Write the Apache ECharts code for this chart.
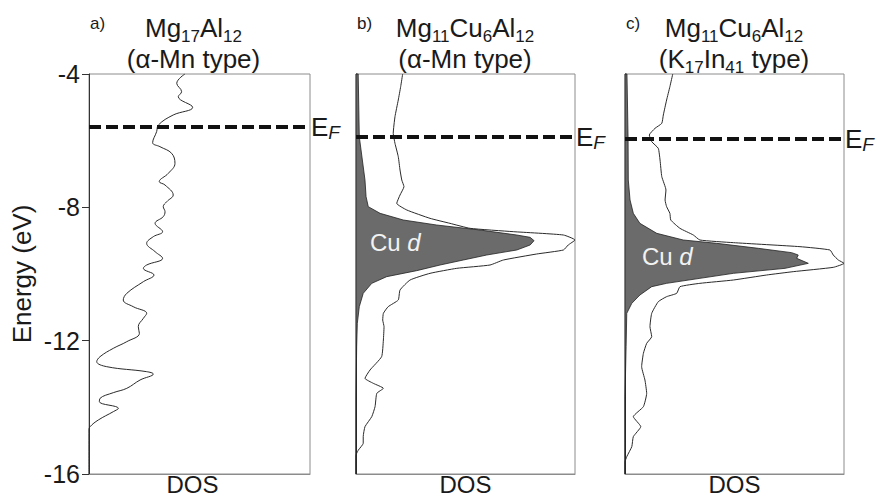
<!DOCTYPE html>
<html><head><meta charset="utf-8">
<script src="https://cdn.jsdelivr.net/npm/echarts@6/dist/echarts.min.js"></script>
<style>html,body{margin:0;padding:0;background:#fff}#c{width:876px;height:497px}</style>
</head><body><div id="c"></div>
<script>
// ---- data (energy in eV, DOS in arbitrary units 0..10) ----
const aE = [-4.0,-4.28,-4.53,-4.68,-5.0,-5.23,-5.53,-5.73,-6.06,-6.18,-6.38,-6.68,-6.98,-7.23,-7.33,-7.63,-7.83,-7.98,-8.13,-8.28,-8.48,-8.73,-8.88,-9.08,-9.33,-9.53,-9.73,-9.83,-10.03,-10.23,-10.58,-10.78,-10.98,-11.18,-11.33,-11.58,-11.78,-12.03,-12.23,-12.48,-12.63,-12.78,-12.93,-13.0,-13.18,-13.43,-13.56,-13.73,-13.83,-14.03,-14.13,-14.38,-14.58,-14.68,-16];
const aD = [4.34,3.97,4.19,4.04,4.69,3.81,3.14,3.06,2.88,3.21,3.74,3.89,3.59,3.18,3.44,3.81,3.52,3.36,3.44,3.36,2.99,3.33,2.91,2.61,2.99,3.33,2.61,2.46,2.94,2.46,1.71,1.55,2.00,2.61,2.46,2.23,2.28,1.71,1.10,0.50,0.35,0.80,2.61,2.91,2.31,1.71,1.10,0.50,0.47,1.33,1.10,0.42,0.05,0,0];

const bE = [-4.0,-4.38,-4.78,-5.28,-5.78,-6.08,-6.48,-6.88,-7.18,-7.38,-7.63,-7.88,-8.08,-8.33,-8.48,-8.63,-8.73,-8.83,-8.98,-9.13,-9.28,-9.40,-9.58,-9.73,-9.83,-9.98,-10.18,-10.48,-10.78,-10.98,-11.18,-11.38,-11.58,-11.98,-12.48,-12.88,-13.13,-13.28,-13.43,-13.58,-13.98,-14.28,-14.58,-14.88,-15.08,-15.28,-15.38,-15.46,-16];
const bD = [2.13,2.04,1.93,1.78,1.70,1.78,1.93,2.01,2.09,2.19,2.01,1.86,2.32,3.38,4.29,5.21,7.18,9.47,10.0,9.69,9.47,8.25,6.73,6.12,4.60,3.38,2.47,2.01,1.93,1.47,1.25,1.22,1.28,1.25,1.17,0.64,0.41,0.79,1.25,0.95,0.87,0.72,0.41,0.33,0.33,0.11,0.03,0,0];
const bCuE = [-4.0,-5.88,-7.18,-7.68,-7.98,-8.18,-8.38,-8.53,-8.68,-8.83,-8.90,-9.00,-9.13,-9.28,-9.43,-9.58,-9.73,-9.90,-10.08,-10.28,-10.58,-10.98,-11.48,-12.18,-13.68,-16];
const bCuD = [0.10,0.15,0.41,0.46,0.56,1.10,2.16,3.68,5.66,7.34,7.95,8.13,7.95,7.34,5.97,4.90,3.84,2.77,1.40,0.72,0.33,0.15,0.06,0.03,0,0];

const cE = [-4.0,-4.38,-4.78,-5.23,-5.48,-5.63,-5.83,-6.03,-6.23,-6.58,-7.08,-7.48,-7.78,-7.98,-8.18,-8.38,-8.63,-8.83,-8.98,-9.06,-9.18,-9.28,-9.43,-9.58,-9.68,-9.80,-9.93,-10.03,-10.18,-10.28,-10.38,-10.58,-10.68,-10.83,-11.18,-11.58,-11.88,-12.08,-12.38,-12.78,-13.18,-13.58,-13.98,-14.28,-14.58,-14.88,-15.18,-15.48,-15.64,-16];
const cD = [2.18,2.05,1.90,1.75,1.68,1.37,1.11,1.22,1.52,1.60,1.68,1.87,1.83,1.90,2.05,2.09,2.51,3.12,3.42,4.95,7.99,9.36,9.51,9.74,10.0,9.51,7.68,6.47,4.95,3.42,2.51,2.36,1.90,1.52,1.22,1.14,1.22,0.99,0.84,0.76,0.91,0.99,0.84,0.38,0.72,0.38,0.31,0.08,0,0];
const cCuE = [-4.0,-5.92,-7.18,-7.78,-8.18,-8.48,-8.78,-8.98,-9.08,-9.23,-9.36,-9.43,-9.53,-9.68,-9.83,-9.98,-10.13,-10.28,-10.38,-10.63,-10.88,-11.18,-12.18,-13.68,-16];
const cCuD = [0.09,0.14,0.15,0.23,0.38,0.68,1.45,2.66,4.19,6.09,7.61,7.91,7.84,8.37,7.31,4.95,3.42,1.90,1.22,0.68,0.31,0.08,0.05,0,0];

const fermiLevels = [-5.58, -5.88, -5.94];
const energyRange = [-16, -4];
const energyStep = 4;
const panelTags = ['a)', 'b)', 'c)'];
const panelFormulas = ['Mg{s|17}Al{s|12}', 'Mg{s|11}Cu{s|6}Al{s|12}', 'Mg{s|11}Cu{s|6}Al{s|12}'];
const panelTypes = ['(α-Mn type)', '(α-Mn type)', '(K{s|17}In{s|41} type)'];
const xName = 'DOS';
const yName = 'Energy (eV)';
const cuLabel = '{n|Cu }{i|d}';

// ---- layout / style ----
const FONT = 'Liberation Sans, Arial, sans-serif';
const TXT = '#1a1a1a';
const grids = [
  {left: 89, top: 74, width: 221, height: 400},
  {left: 356, top: 74, width: 219, height: 400},
  {left: 625, top: 74, width: 219, height: 400}
];
const titleCenters = [193.5, 465, 734];
const tagLefts = [90, 357, 626];

const pairs = (D, E) => D.map((d, i) => [d, E[i]]);
const totals = [pairs(aD, aE), pairs(bD, bE), pairs(cD, cE)];
const cuParts = [null, pairs(bCuD, bCuE), pairs(cCuD, cCuE)];

const sub = {fontSize: 17, fontFamily: FONT, color: TXT, padding: [16, 0, 0, 0]};

const option = {
  backgroundColor: '#fff',
  animation: false,
  textStyle: {fontFamily: FONT},
  grid: grids.map(g => Object.assign({show: true, borderColor: '#8c8c8c', borderWidth: 1,
    backgroundColor: 'transparent', containLabel: false, outerBoundsMode: 'none'}, g)),
  xAxis: grids.map((g, i) => ({
    type: 'value', gridIndex: i, min: 0, max: 10,
    axisLabel: {show: false}, axisTick: {show: false}, splitLine: {show: false},
    axisLine: {show: true, lineStyle: {color: '#8c8c8c', width: 1}},
    name: xName, nameLocation: 'middle', nameGap: -2,
    nameTextStyle: {fontSize: 24, color: TXT, fontFamily: FONT, verticalAlign: 'top',
      padding: i === 0 ? [0, 14, 0, 0] : 0}
  })),
  yAxis: grids.map((g, i) => ({
    type: 'value', gridIndex: i, min: energyRange[0], max: energyRange[1], interval: energyStep,
    axisLine: {show: true, lineStyle: {color: '#333', width: 1}},
    axisTick: {show: i === 0, length: 7, lineStyle: {color: '#333'}},
    axisLabel: {show: i === 0, fontSize: 25, margin: 9, color: TXT, fontFamily: FONT},
    splitLine: {show: false},
    name: i === 0 ? yName : '', nameLocation: 'middle', nameGap: 54,
    nameTextStyle: {fontSize: 26, color: TXT, fontFamily: FONT}
  })),
  series: [],
  graphic: []
};

totals.forEach((data, i) => {
  if (cuParts[i]) {
    const pts = cuParts[i];
    option.series.push({
      type: 'custom', xAxisIndex: i, yAxisIndex: i, data: pts, z: 2, silent: true,
      encode: {x: 0, y: 1},
      renderItem: function (params, api) {
        if (params.dataIndex !== 0) return null;
        const poly = [api.coord([0, energyRange[1]])].concat(pts.map(p => api.coord(p)));
        return {type: 'polygon', shape: {points: poly},
          style: {fill: '#6b6b6b', stroke: '#222', lineWidth: 0.8}};
      }
    });
  }
  option.series.push({
    type: 'line', xAxisIndex: i, yAxisIndex: i, data: data, showSymbol: false, z: 3,
    smooth: i === 0 ? 0.4 : 0.15, silent: true,
    lineStyle: {color: '#2a2a2a', width: 1},
    markLine: {
      silent: true, symbol: 'none', z: 5,
      lineStyle: {type: [12, 5], width: 4, color: '#111'},
      label: {show: true, position: 'end', distance: 1, formatter: '{e|E}{f|F}',
        rich: {e: {fontSize: 26, color: TXT, fontFamily: FONT},
               f: {fontSize: 19, fontStyle: 'italic', color: TXT, fontFamily: FONT, padding: [12, 0, 0, 0]}}},
      data: [{yAxis: fermiLevels[i]}]
    }
  });

  option.graphic.push({type: 'text', left: tagLefts[i], top: 15, z: 10,
    style: {text: panelTags[i], fontSize: 17, fill: TXT, fontFamily: FONT}});
  option.graphic.push({type: 'text', x: titleCenters[i], y: 28, z: 10,
    style: {text: panelFormulas[i], align: 'center', verticalAlign: 'middle',
      fontSize: 26, fill: TXT, fontFamily: FONT,
      rich: {s: sub}}});
  option.graphic.push({type: 'text', x: titleCenters[i], y: 59, z: 10,
    style: {text: panelTypes[i], align: 'center', verticalAlign: 'middle',
      fontSize: 26, fill: TXT, fontFamily: FONT,
      rich: {s: sub}}});
});

option.graphic.push({type: 'text', x: 370, y: 242, z: 10,
  style: {text: cuLabel, verticalAlign: 'middle', fill: '#f2f2f2', fontSize: 24, fontFamily: FONT,
    rich: {n: {fontSize: 24, color: '#f2f2f2', fontFamily: FONT}, i: {fontSize: 24, fontStyle: 'italic', color: '#f2f2f2', fontFamily: FONT}}}});
option.graphic.push({type: 'text', x: 642, y: 256, z: 10,
  style: {text: cuLabel, verticalAlign: 'middle', fill: '#f2f2f2', fontSize: 24, fontFamily: FONT,
    rich: {n: {fontSize: 24, color: '#f2f2f2', fontFamily: FONT}, i: {fontSize: 24, fontStyle: 'italic', color: '#f2f2f2', fontFamily: FONT}}}});

const chart = echarts.init(document.getElementById('c'), null, {renderer: 'svg'});
chart.setOption(option);
</script></body></html>
